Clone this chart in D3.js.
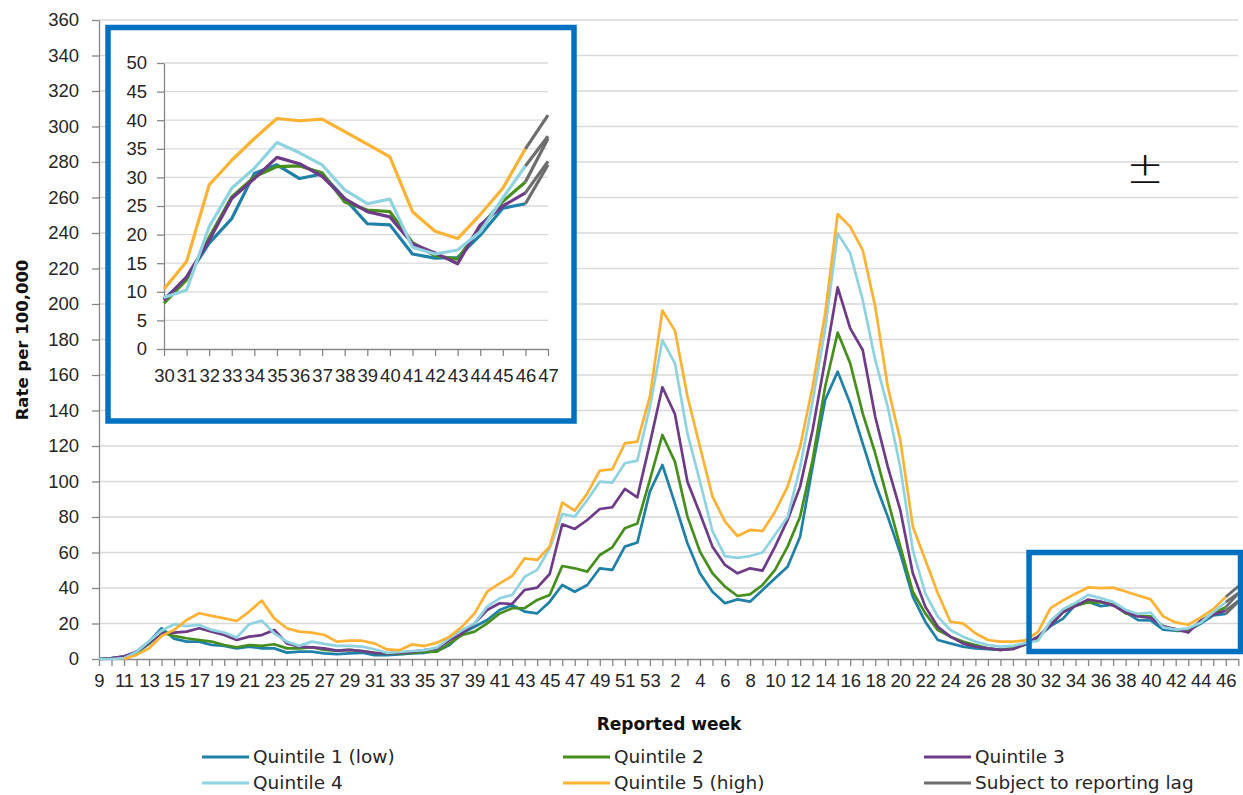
<!DOCTYPE html>
<html>
<head>
<meta charset="utf-8">
<script src="https://cdn.jsdelivr.net/npm/d3@7"></script>
<style>
	body { margin: 0; background: #fff; }
	svg { display: block; font-family: "DejaVu Sans", "Noto Sans", sans-serif; }
	.tick text { fill: #262626; }
</style>
</head>
<body>
<svg id="svg" width="1243" height="795"></svg>
<script>
"use strict";

// reported weeks: 2020 wk 9..53 then 2021 wk 1..47
const weeks = [
	9, 10, 11, 12, 13, 14, 15, 16, 17, 18, 19, 20, 21, 22, 23, 24, 25, 26, 27, 28,
	29, 30, 31, 32, 33, 34, 35, 36, 37, 38, 39, 40, 41, 42, 43, 44, 45, 46, 47, 48,
	49, 50, 51, 52, 53,
	1, 2, 3, 4, 5, 6, 7, 8, 9, 10, 11, 12, 13, 14, 15, 16, 17, 18, 19, 20,
	21, 22, 23, 24, 25, 26, 27, 28, 29, 30, 31, 32, 33, 34, 35, 36, 37, 38, 39, 40,
	41, 42, 43, 44, 45, 46, 47
];

// rate per 100,000 by deprivation quintile
const q1 = [
	0, 0.5, 1.3, 4.2, 9.8, 17.3, 11.5, 9.8, 9.8, 7.9,
	7.4, 6.0, 7.0, 6.0, 6.0, 3.6, 4.2, 4.2, 3.2, 2.7,
	3.2, 3.5, 2.2, 2.2, 2.6, 3.2, 3.5, 4.5, 7.9, 14.5,
	18.2, 22.0, 27.6, 30.4, 26.7, 25.7, 32.3, 41.7, 37.9, 41.7,
	51.1, 50.2, 63.3, 65.6, 94.3,
	109.3, 87.7, 65.2, 48.3, 37.9, 31.4, 33.6, 32.3, 38.9, 45.5,
	52.0, 68.9, 108.4, 145.9, 161.9, 144.0, 121.5, 99.0, 80.2, 59.5,
	35.1, 21.0, 10.7, 8.8, 7.0, 6.0, 5.5, 5.1, 6.0, 8.7,
	12.4, 18.5, 22.8, 30.7, 32.2, 29.8, 30.6, 26.3, 21.9, 21.7,
	16.6, 15.9, 16.0, 19.9, 24.6, 25.4, 32.2
];
const q2 = [
	0, 0.3, 1.0, 3.5, 8.5, 15.0, 13.0, 11.7, 10.7, 9.8,
	7.9, 6.6, 7.9, 7.4, 8.3, 6.0, 6.0, 6.6, 5.1, 4.7,
	5.1, 4.5, 3.5, 3.0, 3.2, 3.5, 4.0, 4.2, 8.8, 13.5,
	15.4, 20.1, 25.7, 28.6, 28.6, 33.3, 36.1, 52.4, 51.1, 49.2,
	58.6, 62.9, 73.6, 76.4, 100.9,
	126.2, 111.2, 80.2, 60.5, 48.3, 40.8, 35.5, 36.4, 41.7, 50.2,
	63.3, 80.2, 112.1, 153.4, 183.9, 166.6, 138.4, 115.9, 89.6, 63.3,
	37.9, 25.7, 16.3, 12.6, 9.8, 7.9, 6.0, 5.1, 6.0, 8.0,
	12.1, 19.5, 26.6, 30.1, 31.9, 32.0, 30.8, 25.7, 24.3, 24.0,
	18.6, 16.3, 15.7, 21.4, 25.8, 29.2, 36.8
];
const q3 = [
	0, 0.5, 1.5, 4.0, 9.0, 14.5, 14.9, 15.4, 17.3, 15.4,
	13.5, 10.7, 12.6, 13.5, 16.4, 8.8, 7.0, 6.6, 6.0, 4.7,
	5.1, 4.5, 3.5, 3.2, 3.5, 4.0, 5.0, 6.0, 10.7, 14.5,
	20.1, 27.6, 31.4, 31.0, 38.9, 40.2, 47.9, 75.9, 73.3, 78.3,
	84.5, 85.5, 95.8, 91.1, 121.5,
	153.1, 138.0, 99.9, 82.0, 63.3, 53.0, 48.3, 51.1, 49.8, 63.3,
	78.3, 97.1, 129.0, 168.5, 209.4, 186.3, 174.1, 136.5, 108.4, 83.9,
	48.3, 29.5, 18.2, 12.6, 8.8, 7.0, 6.0, 5.1, 5.5, 8.5,
	12.6, 19.0, 26.3, 29.8, 33.5, 32.4, 30.2, 26.3, 24.0, 23.1,
	18.4, 16.8, 14.9, 21.7, 25.0, 27.3, 32.8
];
const q4 = [
	0, 0, 0.5, 4.0, 10.0, 16.0, 19.6, 18.6, 19.2, 16.4,
	14.9, 12.1, 19.6, 21.6, 14.5, 9.8, 7.4, 9.8, 8.5, 7.4,
	7.4, 7.0, 5.5, 3.5, 4.0, 4.5, 5.0, 6.5, 11.7, 16.3,
	20.1, 29.5, 34.2, 36.1, 46.4, 50.2, 62.4, 81.7, 80.2, 89.6,
	99.9, 99.4, 110.3, 111.8, 142.0,
	179.7, 166.6, 127.1, 100.0, 72.0, 58.0, 57.0, 58.0, 60.0, 70.0,
	80.0, 108.0, 145.0, 186.0, 239.8, 228.6, 202.3, 168.5, 142.0, 108.0,
	61.4, 37.0, 23.9, 16.3, 12.6, 9.8, 7.9, 7.0, 7.4, 9.0,
	10.3, 21.4, 28.1, 31.6, 36.1, 34.3, 32.2, 27.8, 25.4, 26.2,
	17.8, 16.6, 17.3, 20.5, 26.4, 32.0, 37.2
];
const q5 = [
	null, null, 0, 2.3, 6.0, 13.0, 16.4, 22.0, 25.8, 24.3,
	22.9, 21.4, 26.7, 32.9, 22.9, 17.3, 15.4, 14.9, 13.5, 9.8,
	10.4, 10.3, 8.8, 5.4, 5.0, 8.2, 7.3, 9.2, 12.6, 18.2,
	25.7, 37.9, 42.6, 46.8, 56.7, 55.8, 63.3, 88.1, 83.6, 93.3,
	106.1, 106.9, 121.5, 122.5, 147.8,
	196.3, 185.0, 148.0, 119.6, 91.5, 77.4, 69.3, 72.7, 72.1, 83.0,
	97.1, 119.6, 153.4, 194.8, 250.7, 243.6, 230.4, 198.5, 153.4, 123.4,
	74.6, 55.8, 37.0, 21.0, 20.1, 14.5, 10.7, 9.8, 9.8, 10.5,
	15.3, 28.7, 33.0, 36.8, 40.3, 39.9, 40.2, 38.0, 35.8, 33.6,
	24.0, 20.6, 19.3, 23.5, 28.1, 35.0, 40.9
];

const seriesNames = ["Quintile 1 (low)", "Quintile 2", "Quintile 3", "Quintile 4", "Quintile 5 (high)"];
const seriesColors = ["#1f80a8", "#468f1d", "#6e3b88", "#8fd3e0", "#fdb234"];
const seriesValues = [q1, q2, q3, q4, q5];
const lagName = "Subject to reporting lag";
const lagColor = "#6d6d6d";
const lagPoints = 2; // last segment is shown in grey

const mainTicks = [0, 20, 40, 60, 80, 100, 120, 140, 160, 180, 200, 220, 240, 260, 280, 300, 320, 340, 360];
const insetTicks = [0, 5, 10, 15, 20, 25, 30, 35, 40, 45, 50];
const insetStart = 74; // index of 2021 week 30

const svg = d3.select("#svg");
const n = weeks.length;

// ---------- main chart ----------
const x = d3.scaleLinear().domain([0, n - 1]).range([99, 1238.3]);
const y = d3.scaleLinear().domain([0, 360]).range([659, 20]);

const main = svg.append("g").attr("id", "main");

main.append("g")
	.selectAll("line")
	.data(mainTicks.slice(1))
	.enter()
	.append("line")
	.attr("x1", x(0))
	.attr("x2", x(n - 1))
	.attr("y1", (d) => y(d))
	.attr("y2", (d) => y(d))
	.style("stroke", "#d9d9d9")
	.style("stroke-width", "1.3px");

const yAxis = main.append("g")
	.attr("transform", `translate(${x(0)},0)`)
	.call(d3.axisLeft(y).tickValues(mainTicks).tickSize(7).tickSizeOuter(0).tickPadding(13));
yAxis.selectAll("text").style("font-size", "18.5px");

const xAxis = main.append("g")
	.attr("transform", `translate(0,${y(0)})`)
	.call(
		d3.axisBottom(x)
			.tickValues(d3.range(n))
			.tickSize(7)
			.tickSizeOuter(0)
			.tickFormat((i) => (i % 2 === 0 ? weeks[i] : ""))
	);
xAxis.selectAll("text").style("font-size", "18.5px").attr("y", 15).attr("dy", "0.71em");

[yAxis, xAxis].forEach((a) => {
	a.selectAll("path, line").style("stroke", "#868686").style("stroke-width", "1.3px");
});

const mainLine = d3.line()
	.defined((d) => d.v !== null)
	.x((d) => x(d.i))
	.y((d) => y(d.v));

const lagStart = n - lagPoints;

seriesValues.forEach((vals, k) => {
	const pts = vals.map((v, i) => ({ i: i, v: v }));
	main.append("path")
		.datum(pts.slice(0, lagStart + 1))
		.attr("d", mainLine)
		.style("fill", "none")
		.style("stroke", seriesColors[k])
		.style("stroke-width", "2.7px")
		.style("stroke-linejoin", "round");
});
seriesValues.forEach((vals) => {
	const pts = vals.map((v, i) => ({ i: i, v: v }));
	main.append("path")
		.datum(pts.slice(lagStart))
		.attr("d", mainLine)
		.style("fill", "none")
		.style("stroke", lagColor)
		.style("stroke-width", "2.7px");
});

// highlight box round the zoomed weeks
main.append("rect")
	.attr("x", x(insetStart) + 3.6)
	.attr("y", 552.5)
	.attr("width", 1240.5 - x(insetStart) - 3.6)
	.attr("height", 99)
	.style("fill", "none")
	.style("stroke", "#0070c0")
	.style("stroke-width", "5.5px");

main.append("text")
	.text("Rate per 100,000")
	.attr("transform", "translate(28,340) rotate(-90)")
	.attr("text-anchor", "middle")
	.attr("font-weight", "bold")
	.attr("font-size", "16.5px")
	.attr("fill", "#111");

main.append("text")
	.text("Reported week")
	.attr("x", 669)
	.attr("y", 730)
	.attr("text-anchor", "middle")
	.attr("font-weight", "bold")
	.attr("font-size", "17px")
	.attr("fill", "#111");

// cursor mark
main.append("text")
	.text("±")
	.attr("x", 1145)
	.attr("y", 183)
	.attr("text-anchor", "middle")
	.attr("font-family", "DejaVu Sans")
	.attr("font-weight", 200)
	.attr("font-size", "45px")
	.attr("fill", "#111");

// ---------- inset ----------
const inset = svg.append("g").attr("id", "inset");

inset.append("rect")
	.attr("x", 108)
	.attr("y", 27.5)
	.attr("width", 466)
	.attr("height", 393.5)
	.style("fill", "#fff")
	.style("stroke", "#0070c0")
	.style("stroke-width", "5.5px");

const xi = d3.scaleLinear().domain([insetStart, n - 1]).range([164, 548]);
const yi = d3.scaleLinear().domain([0, 50]).range([349, 63]);

inset.append("g")
	.selectAll("line")
	.data(insetTicks.slice(1))
	.enter()
	.append("line")
	.attr("x1", xi(insetStart))
	.attr("x2", xi(n - 1))
	.attr("y1", (d) => yi(d))
	.attr("y2", (d) => yi(d))
	.style("stroke", "#d9d9d9")
	.style("stroke-width", "1.3px");

const yiAxis = inset.append("g")
	.attr("transform", `translate(${xi(insetStart)},0)`)
	.call(d3.axisLeft(yi).tickValues(insetTicks).tickSize(7).tickSizeOuter(0).tickPadding(10));
yiAxis.selectAll("text").style("font-size", "18.5px");

const xiAxis = inset.append("g")
	.attr("transform", `translate(0,${yi(0)})`)
	.call(
		d3.axisBottom(xi)
			.tickValues(d3.range(insetStart, n))
			.tickSize(7)
			.tickSizeOuter(0)
			.tickFormat((i) => weeks[i])
	);
xiAxis.selectAll("text").style("font-size", "18.5px").attr("y", 20).attr("dy", "0.71em");

[yiAxis, xiAxis].forEach((a) => {
	a.selectAll("path, line").style("stroke", "#868686").style("stroke-width", "1.3px");
});

const insetLine = d3.line()
	.x((d) => xi(d.i))
	.y((d) => yi(d.v));

seriesValues.forEach((vals, k) => {
	const pts = vals.map((v, i) => ({ i: i, v: v })).slice(insetStart);
	inset.append("path")
		.datum(pts.slice(0, pts.length - lagPoints + 1))
		.attr("d", insetLine)
		.style("fill", "none")
		.style("stroke", seriesColors[k])
		.style("stroke-width", "3.2px")
		.style("stroke-linejoin", "round");
});
seriesValues.forEach((vals) => {
	const pts = vals.map((v, i) => ({ i: i, v: v })).slice(lagStart);
	inset.append("path")
		.datum(pts)
		.attr("d", insetLine)
		.style("fill", "none")
		.style("stroke", lagColor)
		.style("stroke-width", "3.2px");
});

// ---------- legend ----------
const legendItems = seriesNames
	.map((d, k) => ({ name: d, color: seriesColors[k] }))
	.concat([{ name: lagName, color: lagColor }]);
const legendCols = [202, 563, 924];
const legendRows = [757, 783];

const legend = svg.append("g").attr("id", "legend");
const item = legend
	.selectAll("g")
	.data(legendItems)
	.enter()
	.append("g")
	.attr("transform", (d, k) => `translate(${legendCols[k % 3]},${legendRows[Math.floor(k / 3)]})`);
item.append("line")
	.attr("x1", 0)
	.attr("x2", 47)
	.style("stroke", (d) => d.color)
	.style("stroke-width", "3px");
item.append("text")
	.text((d) => d.name)
	.attr("x", 51)
	.attr("dy", "0.35em")
	.attr("font-size", "18.5px")
	.attr("fill", "#262626");
</script>
</body>
</html>
